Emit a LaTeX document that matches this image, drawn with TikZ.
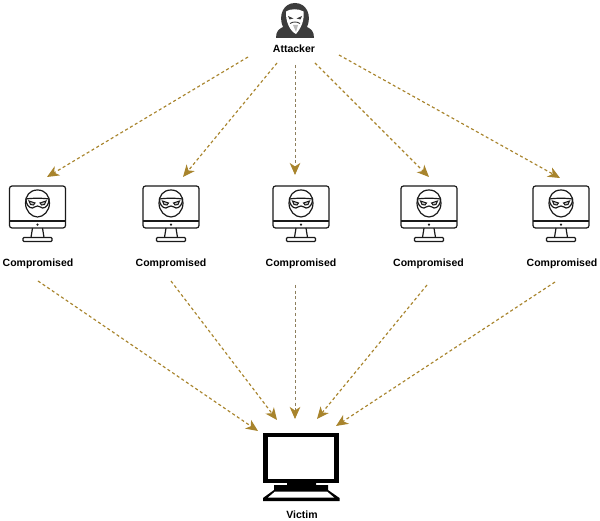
\documentclass[tikz,border=0pt]{standalone}
\usepackage{fontspec}
\setmainfont{Liberation Sans}
\usetikzlibrary{arrows.meta}
\definecolor{gold}{HTML}{A8842C}
\definecolor{ink}{HTML}{1A1A1A}
\tikzset{
  x=1pt,y=-1pt,
  lbl/.style={font=\fontsize{10.5}{12}\selectfont\bfseries,text=black,inner sep=0pt},
  link/.style={gold,line width=1.15pt,dash pattern=on 3pt off 2.6pt,
    -{Stealth[length=12pt,width=10.5pt,inset=3.5pt,gold]}},
  uprightlink/.style={link,draw=gold!55!black!70,line width=0.8pt},
  mon/.style={ink,line width=1.2pt,fill=white},
  pics/pc/.style={code={
    \draw[mon,rounded corners=2.5pt] (-28,-36) rectangle (28,6);
    \draw[mon] (-28,-1) -- (28,-1);
    \fill[ink] (0,2.6) circle (1.2);
    \draw[mon] (-5,6) -- (-6.5,15.5) (5,6) -- (6.5,15.5);
    \draw[mon,rounded corners=1pt] (-14.5,15.5) rectangle (14.5,19.5);
    \draw[mon] (0,-32) .. controls (-8,-32) and (-12,-26) .. (-12,-19)
       .. controls (-12,-11) and (-6,-5) .. (0,-5)
       .. controls (6,-5) and (12,-11) .. (12,-19)
       .. controls (12,-26) and (8,-32) .. (0,-32) -- cycle;
    \draw[mon] (-11.5,-23) .. controls (-5,-24) and (5,-24) .. (11.5,-23)
       .. controls (12,-18) and (8,-13.5) .. (5,-14)
       .. controls (3,-14.5) and (2,-16) .. (0,-16)
       .. controls (-2,-16) and (-3,-14.5) .. (-5,-14)
       .. controls (-8,-13.5) and (-12,-18) .. (-11.5,-23) -- cycle;
    \draw[ink,line width=1pt,fill=ink!25] (-8.5,-21) -- (-2.5,-19) -- (-4,-17) -- (-7,-17.5) -- cycle;
    \draw[ink,line width=1pt,fill=ink!25] (8.5,-21) -- (2.5,-19) -- (4,-17) -- (7,-17.5) -- cycle;
  }}
}
\begin{document}
\begin{tikzpicture}
\useasboundingbox (0,0) rectangle (600,521);
\fill[white] (0,0) rectangle (600,521);
% attacker figure
\fill[ink!85] (276,38) .. controls (276,31) and (279,29) .. (283,27)
  .. controls (278,16) and (283,3) .. (295,3)
  .. controls (307,3) and (312,16) .. (307,27)
  .. controls (311,29) and (314,31) .. (314,38) -- cycle;
\fill[white] (286,11.5) .. controls (290,8.5) and (299,8.5) .. (303.5,11.5)
  .. controls (304.5,19) and (302,27) .. (296,34)
  .. controls (290,31) and (285.5,22) .. (286,11.5) -- cycle;
\fill[ink!85] (288,16) -- (293.5,18.5) -- (289.5,19.5) -- cycle;
\fill[ink!85] (302,16) -- (296.5,18.5) -- (300.5,19.5) -- cycle;
\draw[ink!85,line width=0.9pt] (290,23.5) .. controls (293,21.5) and (297,21.5) .. (300,23.5);
\fill[ink!30] (293,25) -- (298,25) -- (296,32) -- cycle;
% compromised machines
\pic at (37.5,222) {pc};
\pic at (171,222) {pc};
\pic at (301,222) {pc};
\pic at (429,222) {pc};
\pic at (561,222) {pc};
% victim machine
\fill[black] (263,433) rectangle (339,483);
\fill[white] (268,437) rectangle (334,479);
\fill[black] (287,483) rectangle (316,485) (274,485) rectangle (328,490);
\fill[black] (274,490) -- (328,490) -- (339.5,498) -- (339.5,501) -- (263,501) -- (263,498) -- cycle;
\fill[white] (275,491.5) -- (327,491.5) -- (334,497.5) -- (268,497.5) -- cycle;
% labels
\node[lbl] (attacker) at (294,48.5) {Attacker};
\node[lbl] (c1) at (38,264) {Compromised};
\node[lbl] (c2) at (171,264) {Compromised};
\node[lbl] (c3) at (301,264) {Compromised};
\node[lbl] (c4) at (428.5,264) {Compromised};
\node[lbl] (c5) at (562,264) {Compromised};
\node[lbl] (victim) at (302,514.5) {Victim};
% connector ends
\coordinate (a1) at (248,57); \coordinate (t1) at (47,177);
\coordinate (a2) at (277,63); \coordinate (t2) at (183,177);
\coordinate (a3) at (295,65); \coordinate (t3) at (295,175);
\coordinate (a4) at (315,63); \coordinate (t4) at (429,177);
\coordinate (a5) at (339,55); \coordinate (t5) at (560,178);
\coordinate (b1) at (38,281); \coordinate (v1) at (258,431);
\coordinate (b2) at (171,281); \coordinate (v2) at (277,420);
\coordinate (b3) at (295,285); \coordinate (v3) at (295,419);
\coordinate (b4) at (427,285); \coordinate (v4) at (317,419);
\coordinate (b5) at (555,282); \coordinate (v5) at (336,426);
\foreach \i in {1,2,4,5} {
  \draw[link] (a\i) -- (t\i);
  \draw[link] (b\i) -- (v\i);
}
\draw[uprightlink] (a3) -- (t3);
\draw[uprightlink] (b3) -- (v3);
\end{tikzpicture}
\end{document}
